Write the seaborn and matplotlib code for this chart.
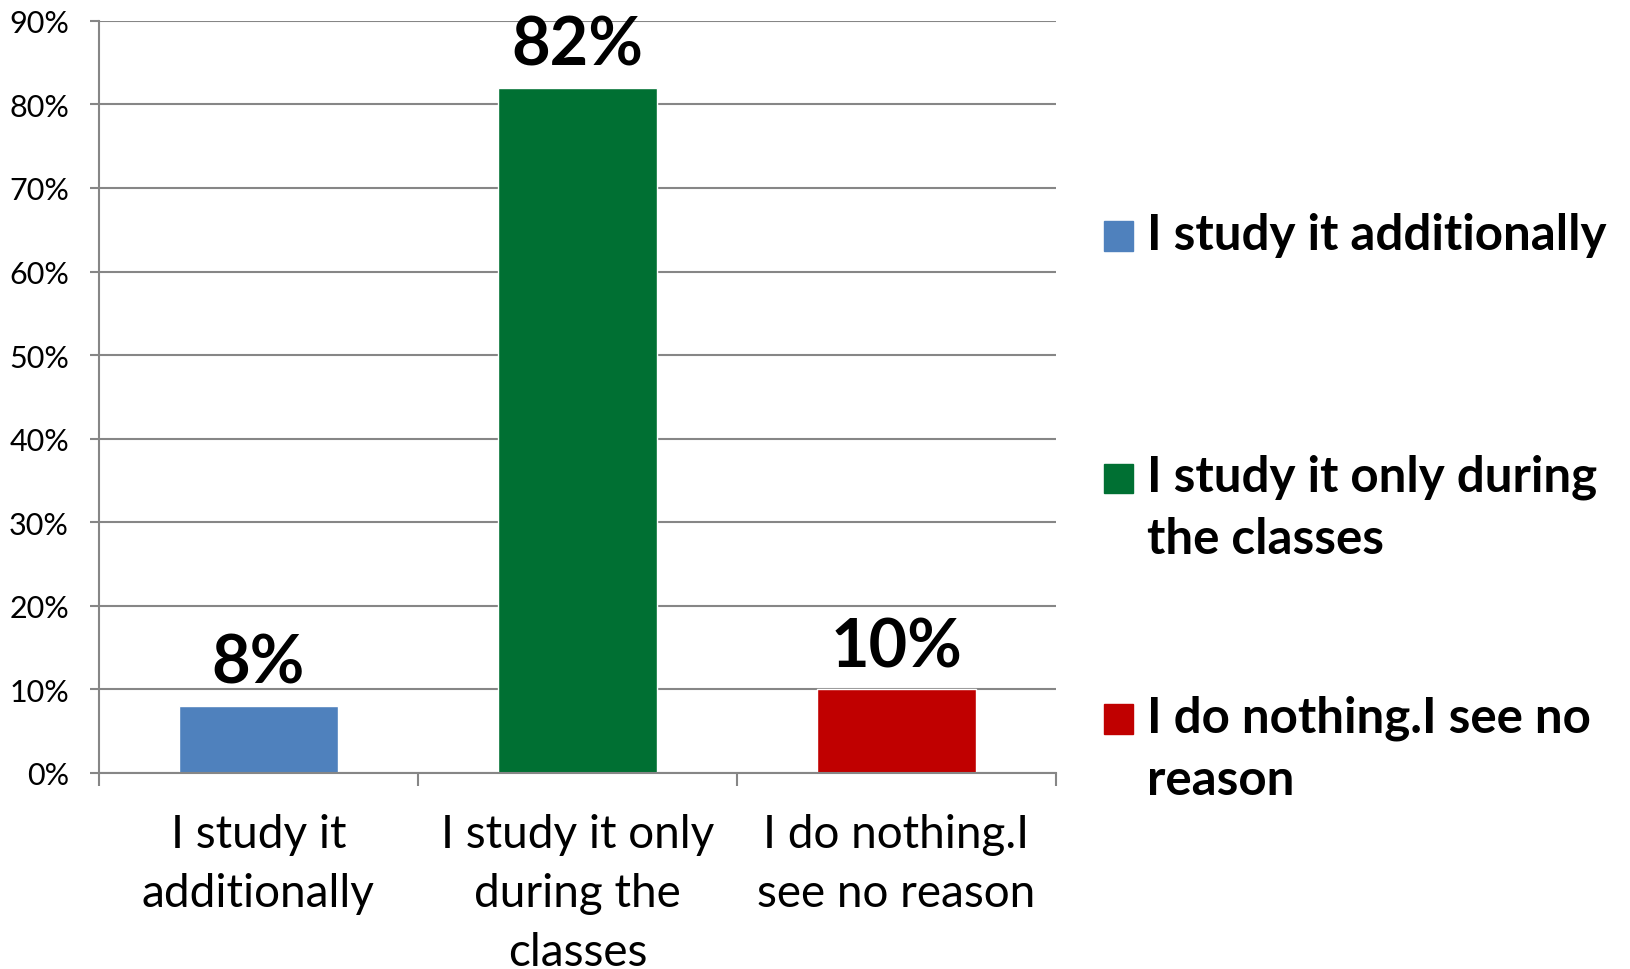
import pandas as pd
import seaborn as sns
import matplotlib.pyplot as plt
from matplotlib.patches import Rectangle

# Dados do gráfico
categorias = ["I study it additionally",
              "I study it only during the classes",
              "I do nothing.I see no reason"]
valores = [8, 82, 10]
rotulos_x = ["I study it\nadditionally",
             "I study it only\nduring the\nclasses",
             "I do nothing.I\nsee no reason"]
rotulos_legenda = ["I study it additionally",
                   "I study it only during\nthe classes",
                   "I do nothing.I see no\nreason"]
cores = ["#4F81BD", "#007033", "#C00000"]
yticks = list(range(0, 91, 10))

df = pd.DataFrame({"categoria": categorias, "valor": valores})

sns.set_style("white")
plt.rcParams["font.family"] = ["Lato", "DejaVu Sans"]
plt.rcParams["text.color"] = "black"
plt.rcParams["xtick.color"] = "black"
plt.rcParams["ytick.color"] = "black"

fig = plt.figure(figsize=(16.31, 9.70), dpi=100)
ax = fig.add_axes([0.0606, 0.2021, 0.5868, 0.7754])

sns.barplot(data=df, x="categoria", y="valor", hue="categoria",
            palette=cores, width=0.5, legend=False, ax=ax, saturation=1)

ax.set_xlim(-0.5, 2.5)
ax.set_ylim(0, 90)
ax.set_yticks(yticks)
ax.set_yticklabels([f"{v}%" for v in yticks], fontsize=22)
ax.yaxis.grid(True, color="#868686", linewidth=1.5)
ax.set_axisbelow(True)

ax.set_xticks(range(3))
ax.set_xticklabels(rotulos_x, fontsize=33, linespacing=1.5)
ax.set_xticks([-0.5, 0.5, 1.5, 2.5], minor=True)
ax.tick_params(axis="x", which="major", bottom=True, length=0, pad=29, labelcolor="black")
ax.tick_params(axis="x", which="minor", bottom=True, length=9.5, width=1.5,
               color="#868686", direction="out")
ax.tick_params(axis="y", left=True, length=6.5, width=1.5, color="#868686",
               direction="out", pad=15, labelcolor="black")
ax.set_xlabel("")
ax.set_ylabel("")

for s in ["top", "right"]:
    ax.spines[s].set_visible(False)
for s in ["left", "bottom"]:
    ax.spines[s].set_color("#868686")
    ax.spines[s].set_linewidth(1.5)
ax.spines["left"].set_bounds(0, 90)

# Rótulos de dados
for cont in ax.containers:
    ax.bar_label(cont, labels=[f"{v:.0f}%" for v in cont.datavalues],
                 fontsize=48, fontweight="bold", padding=8, color="black")

# Legenda manual (quadrado alinhado à primeira linha)
legenda_y = [0.7557, 0.506, 0.2577]
for cor, rot, yy in zip(cores, rotulos_legenda, legenda_y):
    fig.patches.append(Rectangle((0.6769, yy - 0.015), 0.0178, 0.030,
                                 transform=fig.transFigure, color=cor))
    fig.text(0.7033, yy + 0.025, rot, fontsize=35.5, fontweight="bold",
             va="top", ha="left", linespacing=1.45, color="black")

plt.savefig("out.png", dpi=100)
plt.close()
